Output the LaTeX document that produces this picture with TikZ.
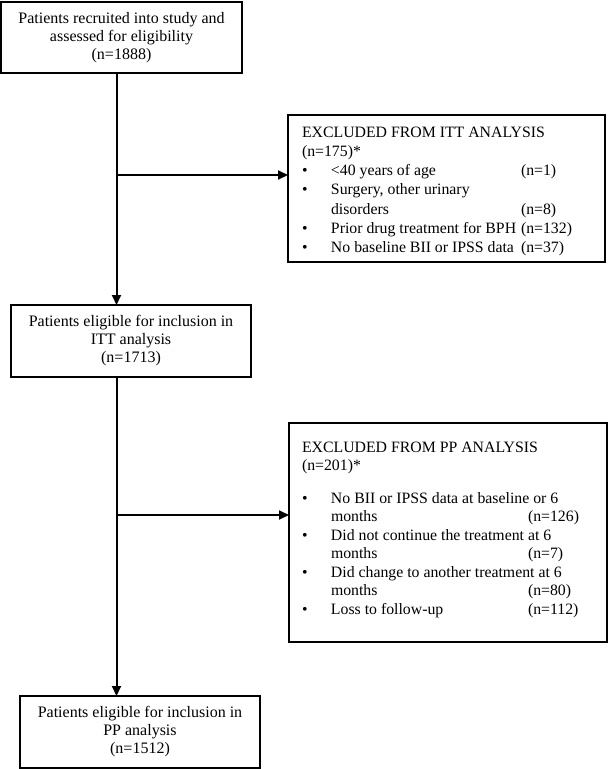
\documentclass[tikz,border=0pt]{standalone}
\usepackage{fontspec}
\setmainfont{Liberation Serif}
\usetikzlibrary{arrows.meta}
\newcommand\itmA[2]{\makebox[29pt][l]{•}\makebox[190pt][l]{#1}#2}
\newcommand\itmB[2]{\makebox[29pt][l]{•}\makebox[197pt][l]{#1}#2}
\newcommand\contA[2]{\makebox[29pt][l]{}\makebox[190pt][l]{#1}#2}
\newcommand\contB[2]{\makebox[29pt][l]{}\makebox[197pt][l]{#1}#2}
\begin{document}
\begin{tikzpicture}[x=1pt,y=-1pt,
  box/.style={draw, line width=1.8pt, inner sep=0pt, outer sep=0pt, align=center,
    font=\fontsize{16}{18}\selectfont},
  exbox/.style={draw, line width=1.8pt, inner sep=0pt, outer sep=0pt},
  lst/.style={anchor=base west, inner sep=0pt, outer sep=0pt},
  arr/.style={line width=2pt, -{Triangle[length=10pt,width=9pt]}}]
\useasboundingbox (0,0) rectangle (611,769);

% main boxes
\node[box, minimum width=241pt, minimum height=71pt] (b1) at (121.5,37.5)
  {Patients recruited into study and\\assessed for eligibility\\(n=1888)};
\node[box, minimum width=240pt, minimum height=72pt] (b2) at (131,341)
  {Patients eligible for inclusion in\\ITT analysis\\(n=1713)};
\node[box, minimum width=240pt, minimum height=72pt] (b3) at (140,732)
  {Patients eligible for inclusion in\\PP analysis\\(n=1512)};

% exclusion boxes
\node[exbox, minimum width=317pt, minimum height=147pt] (e1) at (446.5,188.5) {};
\node[exbox, minimum width=318pt, minimum height=219pt] (e2) at (448,532.5) {};

\node[lst, font=\fontsize{15.8}{19.3}\selectfont] (t1) at (302,137) {%
\begin{tabular}[t]{@{}l@{}}
EXCLUDED FROM ITT ANALYSIS\\
(n=175)*\\
\itmA{<40 years of age}{(n=1)}\\
\itmA{Surgery, other urinary}{}\\
\contA{disorders}{(n=8)}\\
\itmA{Prior drug treatment for BPH}{(n=132)}\\
\itmA{No baseline BII or IPSS data}{(n=37)}
\end{tabular}};

\node[lst, font=\fontsize{15.8}{18.5}\selectfont] (t2) at (302,452) {%
\begin{tabular}[t]{@{}l@{}}
EXCLUDED FROM PP ANALYSIS\\
(n=201)*\\[14pt]
\itmB{No BII or IPSS data at baseline or 6}{}\\
\contB{months}{(n=126)}\\
\itmB{Did not continue the treatment at 6}{}\\
\contB{months}{(n=7)}\\
\itmB{Did change to another treatment at 6}{}\\
\contB{months}{(n=80)}\\
\itmB{Loss to follow-up}{(n=112)}
\end{tabular}};

% connectors
\coordinate (xl) at (116.5,0);
\coordinate (j1) at (116.5,175);
\coordinate (j2) at (116.5,515);
\draw[arr] (b1.south -| xl) -- (b2.north -| xl);
\draw[arr] (b2.south -| xl) -- (b3.north -| xl);
\draw[arr] (j1) -- (j1 -| e1.west);
\draw[arr] (j2) -- (j2 -| e2.west);
\end{tikzpicture}
\end{document}
